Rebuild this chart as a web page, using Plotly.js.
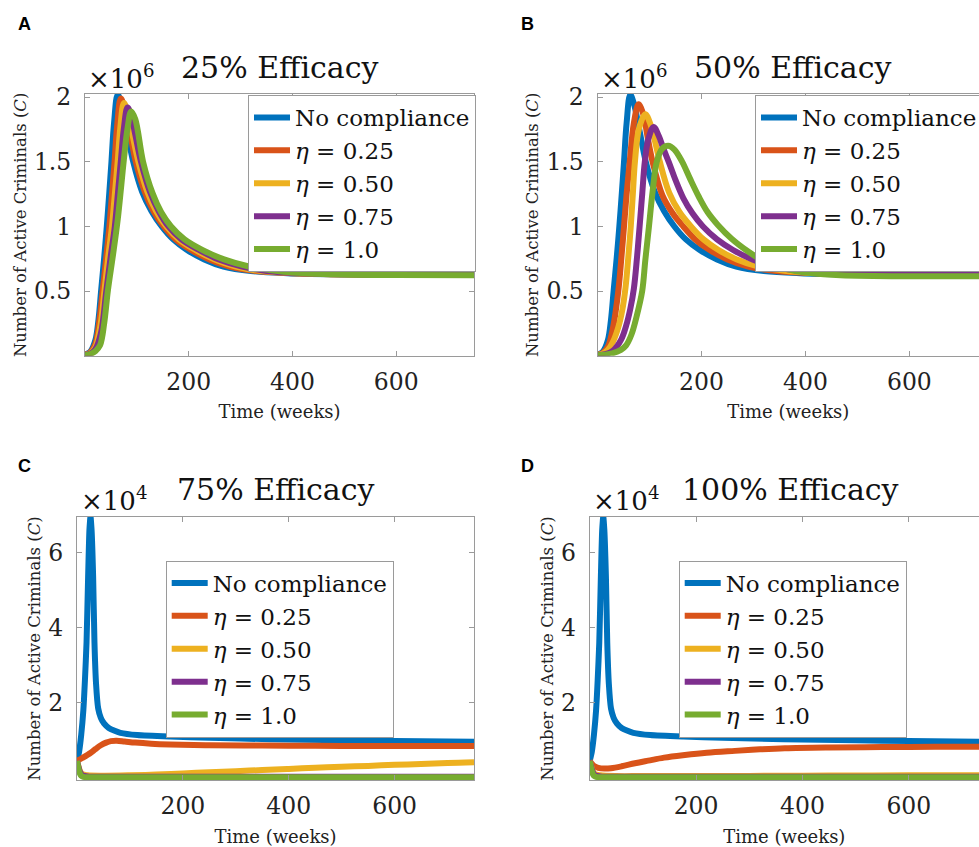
<!DOCTYPE html>
<html><head><meta charset="utf-8">
<script src="https://cdn.plot.ly/plotly-3.0.1.min.js"></script>
<style>html,body{margin:0;padding:0;background:#fff}#chart{width:979px;height:847px}</style>
</head><body><div id="chart"></div>
<script>
// ---------- DATA ----------
const seriesNames = ['No compliance', '<i>η</i> = 0.25', '<i>η</i> = 0.50', '<i>η</i> = 0.75', '<i>η</i> = 1.0'];
const seriesColors = ['#0072BD', '#D95319', '#EDB120', '#7E2F8E', '#77AC30'];
const panelTitles = ['25% Efficacy', '50% Efficacy', '75% Efficacy', '100% Efficacy'];
const panelLetters = ['A', 'B', 'C', 'D'];
const exponentLabels = ['×10<sup>6</sup>', '×10<sup>6</sup>', '×10<sup>4</sup>', '×10<sup>4</sup>'];
const xTickVals = [200, 400, 600];
const yTickValsTop = [0.5, 1, 1.5, 2];      // in units of 10^6
const yTickTextTop = ['0.5', '1', '1.5', '2'];
const yTickValsBottom = [2, 4, 6];          // in units of 10^4
const yTickTextBottom = ['2', '4', '6'];
const xTitle = 'Time (weeks)';
const yTitle = 'Number of Active Criminals (<i>C</i>)';

// No compliance (panels A and B), x10^6
const tNoCompAB = [0, 10, 20, 26, 31, 37, 42, 47, 51, 56, 63, 70, 80, 93, 110, 128, 148, 170, 196, 230, 267, 320, 390, 480, 600, 750];
const yNoCompAB = [0.01, 0.03, 0.12, 0.28, 0.5, 0.76, 1.0, 1.27, 1.5, 1.8, 2.02, 1.95, 1.76, 1.5, 1.27, 1.12, 1.0, 0.9, 0.82, 0.745, 0.69, 0.655, 0.638, 0.63, 0.627, 0.626];

// Panel A (25% efficacy)
const tA025 = [0, 10, 20, 28, 34, 41, 47, 52, 57, 62, 69, 76, 86, 98, 115, 132, 152, 175, 204, 240, 279, 330, 400, 490, 600, 750];
const yA025 = [0.008, 0.025, 0.09, 0.28, 0.5, 0.76, 1.0, 1.25, 1.5, 1.78, 1.99, 1.92, 1.74, 1.5, 1.27, 1.12, 1.0, 0.9, 0.82, 0.745, 0.69, 0.655, 0.638, 0.63, 0.626, 0.625];
const tA050 = [0, 10, 20, 30, 37.5, 45, 52, 58, 63, 68, 75, 82, 91, 103, 120, 137, 157, 181, 212, 250, 291, 340, 410, 500, 600, 750];
const yA050 = [0.006, 0.02, 0.065, 0.24, 0.5, 0.77, 1.0, 1.27, 1.5, 1.76, 1.955, 1.89, 1.72, 1.5, 1.27, 1.12, 1.0, 0.9, 0.82, 0.745, 0.69, 0.655, 0.638, 0.63, 0.626, 0.625];
const tA075 = [0, 10, 20, 31, 41, 50, 57.5, 64, 69, 75, 82, 89, 97, 108, 125, 142, 161, 186, 219, 258, 303, 350, 420, 510, 600, 750];
const yA075 = [0.005, 0.015, 0.05, 0.18, 0.5, 0.78, 1.0, 1.28, 1.5, 1.76, 1.92, 1.86, 1.71, 1.5, 1.27, 1.12, 1.0, 0.9, 0.82, 0.745, 0.69, 0.656, 0.638, 0.63, 0.626, 0.624];
const tA100 = [0, 10, 20, 29, 37, 44, 54, 63, 70, 75, 82, 89, 97, 112, 130, 147, 166, 192, 227, 268, 316, 383, 480, 600, 750];
const yA100 = [0.004, 0.012, 0.035, 0.08, 0.25, 0.5, 0.78, 1.05, 1.32, 1.52, 1.76, 1.89, 1.83, 1.5, 1.26, 1.11, 1.0, 0.9, 0.817, 0.745, 0.69, 0.65, 0.63, 0.624, 0.622];

// Panel B (50% efficacy)
const tB025 = [0, 10, 20, 30, 40, 46, 51, 56, 62, 70, 79, 88, 96, 106, 125, 145, 165, 188, 215, 250, 290, 340, 410, 500, 600, 750];
const yB025 = [0.008, 0.022, 0.07, 0.22, 0.5, 0.76, 1.0, 1.25, 1.5, 1.8, 1.945, 1.87, 1.7, 1.5, 1.24, 1.1, 1.0, 0.9, 0.82, 0.745, 0.69, 0.658, 0.64, 0.633, 0.63, 0.63];
const tB050 = [0, 10, 20, 30, 40, 48, 54, 59, 64, 68, 72, 80, 92, 102, 110, 120, 138, 158, 180, 204, 232, 268, 310, 360, 430, 520, 620, 750];
const yB050 = [0.006, 0.016, 0.045, 0.11, 0.22, 0.36, 0.53, 0.75, 1.0, 1.25, 1.5, 1.76, 1.868, 1.79, 1.67, 1.5, 1.26, 1.11, 1.0, 0.9, 0.82, 0.745, 0.69, 0.657, 0.638, 0.63, 0.628, 0.627];
const tB075 = [0, 15, 30, 45, 55, 63, 70, 76, 81, 86, 91, 98, 108, 118, 127, 137, 150, 165, 183, 203, 230, 260, 298, 340, 390, 460, 550, 640, 750];
const yB075 = [0.004, 0.012, 0.04, 0.12, 0.23, 0.36, 0.52, 0.76, 1.0, 1.25, 1.5, 1.68, 1.77, 1.7, 1.6, 1.5, 1.36, 1.22, 1.1, 1.0, 0.9, 0.82, 0.745, 0.69, 0.655, 0.635, 0.627, 0.625, 0.625];
const tB100 = [0, 15, 30, 45, 55, 65, 75, 86, 92, 99, 106, 114, 124, 136, 148, 163, 178, 195, 212, 232, 258, 292, 318, 340, 382, 459, 600, 750];
const yB100 = [0.003, 0.008, 0.02, 0.045, 0.08, 0.16, 0.3, 0.5, 0.74, 1.0, 1.27, 1.5, 1.6, 1.625, 1.595, 1.5, 1.37, 1.23, 1.11, 1.01, 0.905, 0.8, 0.735, 0.7, 0.655, 0.624, 0.615, 0.615];

// No compliance (panels C and D), x10^4
const tNoCompCD = [0, 4, 8, 12, 15, 18, 21, 23.5, 25.5, 27.5, 30.5, 33, 36, 40, 45, 51, 60, 70, 82, 114, 176, 250, 364, 500, 600, 750];
const yNoCompCD = [0.45, 0.7, 1.15, 1.8, 2.6, 3.6, 5.35, 6.6, 6.95, 6.6, 5.35, 3.6, 2.5, 1.85, 1.6, 1.45, 1.33, 1.26, 1.2, 1.14, 1.1, 1.07, 1.03, 1.0, 0.98, 0.96];

// Panel C (75% efficacy)
const tC025 = [0, 10, 26, 35, 45, 55, 64, 75, 90, 110, 140, 176, 250, 350, 450, 550, 650, 750];
const yC025 = [0.45, 0.53, 0.67, 0.77, 0.87, 0.94, 0.98, 0.99, 0.97, 0.94, 0.91, 0.89, 0.87, 0.86, 0.855, 0.85, 0.85, 0.85];
const tC050 = [0, 3, 6, 10, 20, 50, 100, 150, 200, 250, 300, 350, 400, 450, 500, 550, 600, 650, 700, 750];
const yC050 = [0.45, 0.3, 0.17, 0.1, 0.07, 0.06, 0.07, 0.09, 0.12, 0.15, 0.18, 0.21, 0.24, 0.27, 0.3, 0.32, 0.35, 0.37, 0.4, 0.42];

// Panel D (100% efficacy)
const tD025 = [0, 8, 16, 28, 40, 60, 85, 110, 140, 179, 220, 273, 320, 367, 450, 550, 650, 750];
const yD025 = [0.45, 0.32, 0.27, 0.25, 0.26, 0.31, 0.39, 0.46, 0.54, 0.61, 0.67, 0.72, 0.76, 0.79, 0.81, 0.82, 0.83, 0.83];
const tD050 = [0, 3, 6, 10, 20, 50, 100, 200, 300, 400, 500, 600, 750];
const yD050 = [0.45, 0.3, 0.17, 0.1, 0.07, 0.05, 0.05, 0.05, 0.055, 0.06, 0.065, 0.07, 0.075];

// eta = 0.75 and eta = 1.0 (panels C and D)
const tCD075 = [0, 3, 6, 10, 20, 50, 100, 200, 400, 600, 750];
const yCD075 = [0.45, 0.28, 0.15, 0.07, 0.04, 0.03, 0.03, 0.03, 0.03, 0.03, 0.03];
const tCD100 = [0, 2, 4, 6, 8, 12, 20, 50, 100, 200, 300, 400, 500, 600, 750];
const yCD100 = [0.45, 0.3, 0.18, 0.1, 0.06, 0.03, 0.02, 0.02, 0.02, 0.02, 0.02, 0.02, 0.02, 0.02, 0.02];

const panelSeries = [
  [[tNoCompAB, yNoCompAB], [tA025, yA025], [tA050, yA050], [tA075, yA075], [tA100, yA100]],
  [[tNoCompAB, yNoCompAB], [tB025, yB025], [tB050, yB050], [tB075, yB075], [tB100, yB100]],
  [[tNoCompCD, yNoCompCD], [tC025, yC025], [tC050, yC050], [tCD075, yCD075], [tCD100, yCD100]],
  [[tNoCompCD, yNoCompCD], [tD025, yD025], [tD050, yD050], [tCD075, yCD075], [tCD100, yCD100]]
];

// ---------- LAYOUT HELPERS ----------
const W = 979, H = 847;
const fx = px => px / W;
const fy = py => 1 - py / H;
const SERIF = 'DejaVu Serif';
const AXC = '#9a9a9a';

// pixel boxes of the four plot areas: [left, right, top, bottom]
const boxes = [
  [85, 474, 94, 355.7],
  [597.5, 979, 94, 355.7],
  [77, 474, 516.7, 780.2],
  [589.7, 979, 516.7, 780.2]
];
const xRanges = [[0, 750], [0, 734], [0, 750], [0, 732]];
const yRanges = [[0, 2.025], [0, 2.025], [-0.06, 6.947], [-0.06, 6.947]];

const traces = [];
panelSeries.forEach((ser, p) => {
  ser.forEach((s, i) => {
    traces.push({
      x: s[0], y: s[1],
      xaxis: p === 0 ? 'x' : 'x' + (p + 1),
      yaxis: p === 0 ? 'y' : 'y' + (p + 1),
      legend: p === 0 ? 'legend' : 'legend' + (p + 1),
      name: seriesNames[i],
      mode: 'lines',
      line: { color: seriesColors[i], width: 6, shape: 'spline', smoothing: (p >= 2 && i === 0) ? 0.6 : 1 },
      hoverinfo: 'skip'
    });
  });
});

const layout = {
  width: W, height: H,
  margin: { l: 0, r: 0, t: 0, b: 0, autoexpand: false },
  paper_bgcolor: '#fff', plot_bgcolor: '#fff',
  font: { family: SERIF, color: '#222' },
  showlegend: true,
  annotations: []
};

const legendPos = [[248, 95], [755, 95], [165.7, 560.5], [678.7, 560.5]];
const titlePos = [[280, 67], [793, 67], [276, 490], [790, 490]];
const expPos = [[86, 77], [599, 77], [79, 499], [591, 499]];
const letterPos = [[16, 24], [519, 24], [16, 466], [519, 466]];

boxes.forEach((b, p) => {
  const sfx = p === 0 ? '' : String(p + 1);
  const top = p < 2;
  const common = {
    showline: true, linecolor: AXC, linewidth: 1,
    ticks: 'inside', ticklen: 5, tickcolor: AXC, tickwidth: 1,
    showgrid: false, zeroline: false, fixedrange: true,
    tickfont: { family: SERIF, size: 23.5, color: '#222' }
  };
  layout['xaxis' + sfx] = Object.assign({}, common, {
    domain: [fx(b[0]), Math.min(1, fx(b[1]))],
    range: xRanges[p], anchor: 'y' + sfx,
    mirror: 'allticks',
    tickmode: 'array', tickvals: xTickVals, ticktext: xTickVals.map(String),
    ticklabelstandoff: 5,
    title: { text: xTitle, font: { family: SERIF, size: 18, color: '#222' }, standoff: 10 }
  });
  layout['yaxis' + sfx] = Object.assign({}, common, {
    domain: [fy(b[3]), fy(b[2])],
    range: yRanges[p], anchor: 'x' + sfx,
    mirror: (p === 0 || p === 2) ? 'allticks' : false,
    tickmode: 'array',
    tickvals: top ? yTickValsTop : yTickValsBottom,
    ticktext: top ? yTickTextTop : yTickTextBottom,
    ticklabelstandoff: 8,
    title: { text: yTitle, font: { family: SERIF, size: 16.5, color: '#222' }, standoff: 3 }
  });
  layout['legend' + (p === 0 ? '' : p + 1)] = {
    x: fx(legendPos[p][0]), y: fy(legendPos[p][1]),
    xanchor: 'left', yanchor: 'top',
    bgcolor: '#fff', bordercolor: AXC, borderwidth: 1,
    font: { family: SERIF, size: 23, color: '#111' },
    itemwidth: 36, tracegroupgap: 0
  };
  layout.annotations.push({
    text: panelTitles[p], xref: 'paper', yref: 'paper',
    x: fx(titlePos[p][0]), y: fy(titlePos[p][1]), xanchor: 'center', yanchor: 'middle',
    showarrow: false, font: { family: SERIF, size: 30, color: '#111' }
  });
  layout.annotations.push({
    text: exponentLabels[p], xref: 'paper', yref: 'paper',
    x: fx(expPos[p][0]), y: fy(expPos[p][1]), xanchor: 'left', yanchor: 'middle',
    showarrow: false, font: { family: SERIF, size: 26, color: '#111' }
  });
  layout.annotations.push({
    text: '<b>' + panelLetters[p] + '</b>', xref: 'paper', yref: 'paper',
    x: fx(letterPos[p][0]), y: fy(letterPos[p][1]), xanchor: 'left', yanchor: 'middle',
    showarrow: false, font: { family: 'Liberation Sans', size: 18, color: '#000' }
  });
});

Plotly.newPlot('chart', traces, layout, { staticPlot: true, displayModeBar: false });
</script></body></html>
